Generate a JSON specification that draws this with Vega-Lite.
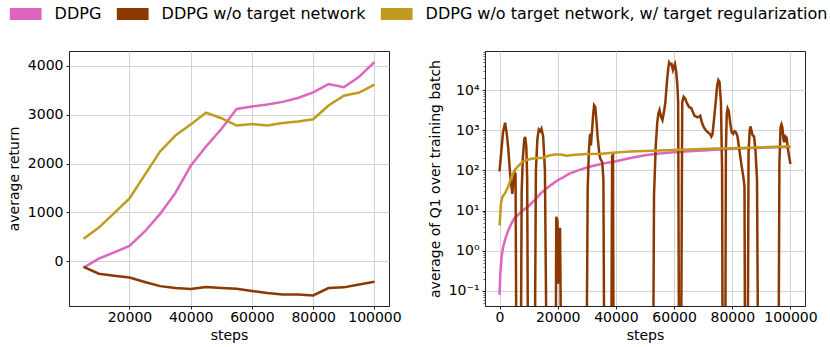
{
  "$schema": "https://vega.github.io/schema/vega-lite/v6.json",
  "padding": {"left": 6, "top": 6, "right": 5, "bottom": 5},
  "bounds": "flush",
  "spacing": 96,
  "config": {
    "font": "DejaVu Sans",
    "view": {"stroke": "#222222", "strokeWidth": 1},
    "axis": {
      "labelFont": "DejaVu Sans", "labelFontSize": 14, "labelColor": "black",
      "titleFont": "DejaVu Sans", "titleFontSize": 14, "titleFontWeight": "normal", "titleColor": "black",
      "domainColor": "#222222", "tickColor": "#222222", "tickSize": 3, "labelPadding": 3,
      "gridColor": "#d3d3d3", "gridWidth": 1, "titlePadding": 6
    },
    "axisX": {"labelPadding": 1, "titlePadding": 4}
  },
  "datasets": {
    "left": [
      {"steps": 5000, "value": -130, "series": "DDPG"},
      {"steps": 10000, "value": 55, "series": "DDPG"},
      {"steps": 15000, "value": 180, "series": "DDPG"},
      {"steps": 20000, "value": 315, "series": "DDPG"},
      {"steps": 25000, "value": 610, "series": "DDPG"},
      {"steps": 30000, "value": 970, "series": "DDPG"},
      {"steps": 35000, "value": 1400, "series": "DDPG"},
      {"steps": 40000, "value": 1955, "series": "DDPG"},
      {"steps": 45000, "value": 2350, "series": "DDPG"},
      {"steps": 50000, "value": 2710, "series": "DDPG"},
      {"steps": 55000, "value": 3120, "series": "DDPG"},
      {"steps": 60000, "value": 3170, "series": "DDPG"},
      {"steps": 65000, "value": 3210, "series": "DDPG"},
      {"steps": 70000, "value": 3265, "series": "DDPG"},
      {"steps": 75000, "value": 3345, "series": "DDPG"},
      {"steps": 80000, "value": 3460, "series": "DDPG"},
      {"steps": 85000, "value": 3630, "series": "DDPG"},
      {"steps": 90000, "value": 3565, "series": "DDPG"},
      {"steps": 95000, "value": 3780, "series": "DDPG"},
      {"steps": 100000, "value": 4080, "series": "DDPG"},
      {"steps": 5000, "value": -115, "series": "DDPG w/o target network"},
      {"steps": 10000, "value": -255, "series": "DDPG w/o target network"},
      {"steps": 15000, "value": -295, "series": "DDPG w/o target network"},
      {"steps": 20000, "value": -335, "series": "DDPG w/o target network"},
      {"steps": 25000, "value": -425, "series": "DDPG w/o target network"},
      {"steps": 30000, "value": -510, "series": "DDPG w/o target network"},
      {"steps": 35000, "value": -550, "series": "DDPG w/o target network"},
      {"steps": 40000, "value": -570, "series": "DDPG w/o target network"},
      {"steps": 45000, "value": -530, "series": "DDPG w/o target network"},
      {"steps": 50000, "value": -550, "series": "DDPG w/o target network"},
      {"steps": 55000, "value": -565, "series": "DDPG w/o target network"},
      {"steps": 60000, "value": -610, "series": "DDPG w/o target network"},
      {"steps": 65000, "value": -650, "series": "DDPG w/o target network"},
      {"steps": 70000, "value": -680, "series": "DDPG w/o target network"},
      {"steps": 75000, "value": -682, "series": "DDPG w/o target network"},
      {"steps": 80000, "value": -700, "series": "DDPG w/o target network"},
      {"steps": 85000, "value": -550, "series": "DDPG w/o target network"},
      {"steps": 90000, "value": -535, "series": "DDPG w/o target network"},
      {"steps": 95000, "value": -475, "series": "DDPG w/o target network"},
      {"steps": 100000, "value": -420, "series": "DDPG w/o target network"},
      {"steps": 5000, "value": 460, "series": "DDPG w/o target network, w/ target regularization"},
      {"steps": 10000, "value": 690, "series": "DDPG w/o target network, w/ target regularization"},
      {"steps": 15000, "value": 985, "series": "DDPG w/o target network, w/ target regularization"},
      {"steps": 20000, "value": 1285, "series": "DDPG w/o target network, w/ target regularization"},
      {"steps": 25000, "value": 1770, "series": "DDPG w/o target network, w/ target regularization"},
      {"steps": 30000, "value": 2250, "series": "DDPG w/o target network, w/ target regularization"},
      {"steps": 35000, "value": 2575, "series": "DDPG w/o target network, w/ target regularization"},
      {"steps": 40000, "value": 2800, "series": "DDPG w/o target network, w/ target regularization"},
      {"steps": 45000, "value": 3045, "series": "DDPG w/o target network, w/ target regularization"},
      {"steps": 50000, "value": 2930, "series": "DDPG w/o target network, w/ target regularization"},
      {"steps": 55000, "value": 2780, "series": "DDPG w/o target network, w/ target regularization"},
      {"steps": 60000, "value": 2810, "series": "DDPG w/o target network, w/ target regularization"},
      {"steps": 65000, "value": 2780, "series": "DDPG w/o target network, w/ target regularization"},
      {"steps": 70000, "value": 2830, "series": "DDPG w/o target network, w/ target regularization"},
      {"steps": 75000, "value": 2865, "series": "DDPG w/o target network, w/ target regularization"},
      {"steps": 80000, "value": 2910, "series": "DDPG w/o target network, w/ target regularization"},
      {"steps": 85000, "value": 3190, "series": "DDPG w/o target network, w/ target regularization"},
      {"steps": 90000, "value": 3390, "series": "DDPG w/o target network, w/ target regularization"},
      {"steps": 95000, "value": 3455, "series": "DDPG w/o target network, w/ target regularization"},
      {"steps": 100000, "value": 3620, "series": "DDPG w/o target network, w/ target regularization"}
    ],
    "right": [
      {"steps": 0, "q": 0.08, "series": "DDPG"},
      {"steps": 300, "q": 0.3, "series": "DDPG"},
      {"steps": 700, "q": 0.7, "series": "DDPG"},
      {"steps": 1200, "q": 1.2, "series": "DDPG"},
      {"steps": 2000, "q": 2.0, "series": "DDPG"},
      {"steps": 3000, "q": 3.2, "series": "DDPG"},
      {"steps": 4000, "q": 4.6, "series": "DDPG"},
      {"steps": 5000, "q": 6.3, "series": "DDPG"},
      {"steps": 6500, "q": 8, "series": "DDPG"},
      {"steps": 8000, "q": 10, "series": "DDPG"},
      {"steps": 10000, "q": 13, "series": "DDPG"},
      {"steps": 12000, "q": 18, "series": "DDPG"},
      {"steps": 14000, "q": 26, "series": "DDPG"},
      {"steps": 16000, "q": 35, "series": "DDPG"},
      {"steps": 18000, "q": 45, "series": "DDPG"},
      {"steps": 20000, "q": 57, "series": "DDPG"},
      {"steps": 22000, "q": 68, "series": "DDPG"},
      {"steps": 24000, "q": 83, "series": "DDPG"},
      {"steps": 27000, "q": 100, "series": "DDPG"},
      {"steps": 30000, "q": 118, "series": "DDPG"},
      {"steps": 33000, "q": 135, "series": "DDPG"},
      {"steps": 36000, "q": 150, "series": "DDPG"},
      {"steps": 40000, "q": 170, "series": "DDPG"},
      {"steps": 45000, "q": 205, "series": "DDPG"},
      {"steps": 50000, "q": 240, "series": "DDPG"},
      {"steps": 55000, "q": 265, "series": "DDPG"},
      {"steps": 60000, "q": 285, "series": "DDPG"},
      {"steps": 65000, "q": 300, "series": "DDPG"},
      {"steps": 70000, "q": 315, "series": "DDPG"},
      {"steps": 77000, "q": 335, "series": "DDPG"},
      {"steps": 85000, "q": 355, "series": "DDPG"},
      {"steps": 92000, "q": 370, "series": "DDPG"},
      {"steps": 100000, "q": 383, "series": "DDPG"},

      {"steps": 0, "q": 95, "series": "DDPG w/o target network"},
      {"steps": 600, "q": 300, "series": "DDPG w/o target network"},
      {"steps": 1200, "q": 900, "series": "DDPG w/o target network"},
      {"steps": 1900, "q": 1550, "series": "DDPG w/o target network"},
      {"steps": 2500, "q": 800, "series": "DDPG w/o target network"},
      {"steps": 3000, "q": 350, "series": "DDPG w/o target network"},
      {"steps": 3600, "q": 90, "series": "DDPG w/o target network"},
      {"steps": 4000, "q": 45, "series": "DDPG w/o target network"},
      {"steps": 4400, "q": 26, "series": "DDPG w/o target network"},
      {"steps": 4800, "q": 60, "series": "DDPG w/o target network"},
      {"steps": 5200, "q": 90, "series": "DDPG w/o target network"},
      {"steps": 5500, "q": 80, "series": "DDPG w/o target network"},
      {"steps": 5800, "q": 0.001, "series": "DDPG w/o target network"},
      {"steps": 7300, "q": 0.001, "series": "DDPG w/o target network"},
      {"steps": 7600, "q": 30, "series": "DDPG w/o target network"},
      {"steps": 8000, "q": 200, "series": "DDPG w/o target network"},
      {"steps": 8500, "q": 600, "series": "DDPG w/o target network"},
      {"steps": 8800, "q": 680, "series": "DDPG w/o target network"},
      {"steps": 9200, "q": 400, "series": "DDPG w/o target network"},
      {"steps": 9500, "q": 60, "series": "DDPG w/o target network"},
      {"steps": 9800, "q": 0.001, "series": "DDPG w/o target network"},
      {"steps": 12100, "q": 0.001, "series": "DDPG w/o target network"},
      {"steps": 12500, "q": 100, "series": "DDPG w/o target network"},
      {"steps": 13000, "q": 600, "series": "DDPG w/o target network"},
      {"steps": 13500, "q": 1050, "series": "DDPG w/o target network"},
      {"steps": 14000, "q": 950, "series": "DDPG w/o target network"},
      {"steps": 14400, "q": 1100, "series": "DDPG w/o target network"},
      {"steps": 15000, "q": 700, "series": "DDPG w/o target network"},
      {"steps": 15600, "q": 100, "series": "DDPG w/o target network"},
      {"steps": 16200, "q": 0.001, "series": "DDPG w/o target network"},
      {"steps": 19300, "q": 0.001, "series": "DDPG w/o target network"},
      {"steps": 19500, "q": 7, "series": "DDPG w/o target network"},
      {"steps": 19900, "q": 5.5, "series": "DDPG w/o target network"},
      {"steps": 20150, "q": 0.15, "series": "DDPG w/o target network"},
      {"steps": 20500, "q": 3.5, "series": "DDPG w/o target network"},
      {"steps": 20800, "q": 3.5, "series": "DDPG w/o target network"},
      {"steps": 21200, "q": 0.001, "series": "DDPG w/o target network"},
      {"steps": 29900, "q": 0.001, "series": "DDPG w/o target network"},
      {"steps": 30300, "q": 35, "series": "DDPG w/o target network"},
      {"steps": 30700, "q": 290, "series": "DDPG w/o target network"},
      {"steps": 31100, "q": 820, "series": "DDPG w/o target network"},
      {"steps": 31400, "q": 420, "series": "DDPG w/o target network"},
      {"steps": 31800, "q": 1000, "series": "DDPG w/o target network"},
      {"steps": 32200, "q": 2500, "series": "DDPG w/o target network"},
      {"steps": 32500, "q": 4200, "series": "DDPG w/o target network"},
      {"steps": 32900, "q": 3800, "series": "DDPG w/o target network"},
      {"steps": 33300, "q": 1800, "series": "DDPG w/o target network"},
      {"steps": 33700, "q": 700, "series": "DDPG w/o target network"},
      {"steps": 34300, "q": 260, "series": "DDPG w/o target network"},
      {"steps": 34600, "q": 200, "series": "DDPG w/o target network"},
      {"steps": 35300, "q": 160, "series": "DDPG w/o target network"},
      {"steps": 35700, "q": 60, "series": "DDPG w/o target network"},
      {"steps": 36000, "q": 0.001, "series": "DDPG w/o target network"},
      {"steps": 38400, "q": 0.001, "series": "DDPG w/o target network"},
      {"steps": 38700, "q": 230, "series": "DDPG w/o target network"},
      {"steps": 39000, "q": 240, "series": "DDPG w/o target network"},
      {"steps": 39200, "q": 0.001, "series": "DDPG w/o target network"},
      {"steps": 52800, "q": 0.001, "series": "DDPG w/o target network"},
      {"steps": 53100, "q": 24, "series": "DDPG w/o target network"},
      {"steps": 53700, "q": 420, "series": "DDPG w/o target network"},
      {"steps": 54200, "q": 1500, "series": "DDPG w/o target network"},
      {"steps": 54600, "q": 2600, "series": "DDPG w/o target network"},
      {"steps": 55000, "q": 3200, "series": "DDPG w/o target network"},
      {"steps": 55500, "q": 2200, "series": "DDPG w/o target network"},
      {"steps": 56000, "q": 1800, "series": "DDPG w/o target network"},
      {"steps": 56500, "q": 2800, "series": "DDPG w/o target network"},
      {"steps": 57000, "q": 5000, "series": "DDPG w/o target network"},
      {"steps": 57600, "q": 18000, "series": "DDPG w/o target network"},
      {"steps": 58000, "q": 35000, "series": "DDPG w/o target network"},
      {"steps": 58300, "q": 49000, "series": "DDPG w/o target network"},
      {"steps": 58700, "q": 44000, "series": "DDPG w/o target network"},
      {"steps": 59100, "q": 45000, "series": "DDPG w/o target network"},
      {"steps": 59600, "q": 32000, "series": "DDPG w/o target network"},
      {"steps": 60000, "q": 40000, "series": "DDPG w/o target network"},
      {"steps": 60300, "q": 45000, "series": "DDPG w/o target network"},
      {"steps": 60700, "q": 30000, "series": "DDPG w/o target network"},
      {"steps": 61100, "q": 14000, "series": "DDPG w/o target network"},
      {"steps": 61400, "q": 5000, "series": "DDPG w/o target network"},
      {"steps": 61700, "q": 0.001, "series": "DDPG w/o target network"},
      {"steps": 62400, "q": 0.001, "series": "DDPG w/o target network"},
      {"steps": 62800, "q": 5000, "series": "DDPG w/o target network"},
      {"steps": 63300, "q": 6800, "series": "DDPG w/o target network"},
      {"steps": 63800, "q": 6200, "series": "DDPG w/o target network"},
      {"steps": 64300, "q": 5000, "series": "DDPG w/o target network"},
      {"steps": 64800, "q": 4200, "series": "DDPG w/o target network"},
      {"steps": 65300, "q": 3700, "series": "DDPG w/o target network"},
      {"steps": 65900, "q": 3600, "series": "DDPG w/o target network"},
      {"steps": 66500, "q": 2800, "series": "DDPG w/o target network"},
      {"steps": 67000, "q": 2300, "series": "DDPG w/o target network"},
      {"steps": 67600, "q": 2200, "series": "DDPG w/o target network"},
      {"steps": 68100, "q": 2100, "series": "DDPG w/o target network"},
      {"steps": 68600, "q": 2200, "series": "DDPG w/o target network"},
      {"steps": 69000, "q": 2300, "series": "DDPG w/o target network"},
      {"steps": 69500, "q": 1600, "series": "DDPG w/o target network"},
      {"steps": 70200, "q": 1200, "series": "DDPG w/o target network"},
      {"steps": 70900, "q": 1000, "series": "DDPG w/o target network"},
      {"steps": 71500, "q": 900, "series": "DDPG w/o target network"},
      {"steps": 72200, "q": 830, "series": "DDPG w/o target network"},
      {"steps": 72800, "q": 700, "series": "DDPG w/o target network"},
      {"steps": 73200, "q": 800, "series": "DDPG w/o target network"},
      {"steps": 73700, "q": 1800, "series": "DDPG w/o target network"},
      {"steps": 74300, "q": 5000, "series": "DDPG w/o target network"},
      {"steps": 74800, "q": 13000, "series": "DDPG w/o target network"},
      {"steps": 75200, "q": 17800, "series": "DDPG w/o target network"},
      {"steps": 75600, "q": 16000, "series": "DDPG w/o target network"},
      {"steps": 76100, "q": 5000, "series": "DDPG w/o target network"},
      {"steps": 76500, "q": 100, "series": "DDPG w/o target network"},
      {"steps": 76700, "q": 0.001, "series": "DDPG w/o target network"},
      {"steps": 77600, "q": 0.001, "series": "DDPG w/o target network"},
      {"steps": 77800, "q": 300, "series": "DDPG w/o target network"},
      {"steps": 78100, "q": 2500, "series": "DDPG w/o target network"},
      {"steps": 78400, "q": 3500, "series": "DDPG w/o target network"},
      {"steps": 78800, "q": 3000, "series": "DDPG w/o target network"},
      {"steps": 79300, "q": 1500, "series": "DDPG w/o target network"},
      {"steps": 79800, "q": 900, "series": "DDPG w/o target network"},
      {"steps": 80300, "q": 820, "series": "DDPG w/o target network"},
      {"steps": 80800, "q": 950, "series": "DDPG w/o target network"},
      {"steps": 81300, "q": 880, "series": "DDPG w/o target network"},
      {"steps": 81800, "q": 700, "series": "DDPG w/o target network"},
      {"steps": 82500, "q": 300, "series": "DDPG w/o target network"},
      {"steps": 83200, "q": 130, "series": "DDPG w/o target network"},
      {"steps": 83800, "q": 70, "series": "DDPG w/o target network"},
      {"steps": 84200, "q": 40, "series": "DDPG w/o target network"},
      {"steps": 84400, "q": 0.001, "series": "DDPG w/o target network"},
      {"steps": 85300, "q": 0.001, "series": "DDPG w/o target network"},
      {"steps": 85600, "q": 300, "series": "DDPG w/o target network"},
      {"steps": 86000, "q": 1000, "series": "DDPG w/o target network"},
      {"steps": 86300, "q": 1250, "series": "DDPG w/o target network"},
      {"steps": 86700, "q": 900, "series": "DDPG w/o target network"},
      {"steps": 87000, "q": 750, "series": "DDPG w/o target network"},
      {"steps": 87500, "q": 700, "series": "DDPG w/o target network"},
      {"steps": 88000, "q": 300, "series": "DDPG w/o target network"},
      {"steps": 88500, "q": 60, "series": "DDPG w/o target network"},
      {"steps": 88900, "q": 0.001, "series": "DDPG w/o target network"},
      {"steps": 95900, "q": 0.001, "series": "DDPG w/o target network"},
      {"steps": 96200, "q": 150, "series": "DDPG w/o target network"},
      {"steps": 96600, "q": 1200, "series": "DDPG w/o target network"},
      {"steps": 96900, "q": 1400, "series": "DDPG w/o target network"},
      {"steps": 97200, "q": 1200, "series": "DDPG w/o target network"},
      {"steps": 97600, "q": 600, "series": "DDPG w/o target network"},
      {"steps": 97900, "q": 500, "series": "DDPG w/o target network"},
      {"steps": 98300, "q": 700, "series": "DDPG w/o target network"},
      {"steps": 98700, "q": 650, "series": "DDPG w/o target network"},
      {"steps": 99100, "q": 350, "series": "DDPG w/o target network"},
      {"steps": 99500, "q": 230, "series": "DDPG w/o target network"},
      {"steps": 100000, "q": 145, "series": "DDPG w/o target network"},

      {"steps": 0, "q": 4.3, "series": "DDPG w/o target network, w/ target regularization"},
      {"steps": 500, "q": 15, "series": "DDPG w/o target network, w/ target regularization"},
      {"steps": 1000, "q": 22, "series": "DDPG w/o target network, w/ target regularization"},
      {"steps": 2000, "q": 28, "series": "DDPG w/o target network, w/ target regularization"},
      {"steps": 3000, "q": 40, "series": "DDPG w/o target network, w/ target regularization"},
      {"steps": 4000, "q": 65, "series": "DDPG w/o target network, w/ target regularization"},
      {"steps": 5000, "q": 95, "series": "DDPG w/o target network, w/ target regularization"},
      {"steps": 6000, "q": 120, "series": "DDPG w/o target network, w/ target regularization"},
      {"steps": 7500, "q": 155, "series": "DDPG w/o target network, w/ target regularization"},
      {"steps": 9000, "q": 180, "series": "DDPG w/o target network, w/ target regularization"},
      {"steps": 11000, "q": 195, "series": "DDPG w/o target network, w/ target regularization"},
      {"steps": 13000, "q": 205, "series": "DDPG w/o target network, w/ target regularization"},
      {"steps": 15000, "q": 205, "series": "DDPG w/o target network, w/ target regularization"},
      {"steps": 17000, "q": 235, "series": "DDPG w/o target network, w/ target regularization"},
      {"steps": 19000, "q": 250, "series": "DDPG w/o target network, w/ target regularization"},
      {"steps": 21000, "q": 250, "series": "DDPG w/o target network, w/ target regularization"},
      {"steps": 23000, "q": 232, "series": "DDPG w/o target network, w/ target regularization"},
      {"steps": 26000, "q": 245, "series": "DDPG w/o target network, w/ target regularization"},
      {"steps": 30000, "q": 255, "series": "DDPG w/o target network, w/ target regularization"},
      {"steps": 35000, "q": 262, "series": "DDPG w/o target network, w/ target regularization"},
      {"steps": 40000, "q": 280, "series": "DDPG w/o target network, w/ target regularization"},
      {"steps": 45000, "q": 295, "series": "DDPG w/o target network, w/ target regularization"},
      {"steps": 50000, "q": 305, "series": "DDPG w/o target network, w/ target regularization"},
      {"steps": 55000, "q": 315, "series": "DDPG w/o target network, w/ target regularization"},
      {"steps": 60000, "q": 325, "series": "DDPG w/o target network, w/ target regularization"},
      {"steps": 65000, "q": 333, "series": "DDPG w/o target network, w/ target regularization"},
      {"steps": 70000, "q": 340, "series": "DDPG w/o target network, w/ target regularization"},
      {"steps": 75000, "q": 350, "series": "DDPG w/o target network, w/ target regularization"},
      {"steps": 80000, "q": 358, "series": "DDPG w/o target network, w/ target regularization"},
      {"steps": 85000, "q": 368, "series": "DDPG w/o target network, w/ target regularization"},
      {"steps": 90000, "q": 378, "series": "DDPG w/o target network, w/ target regularization"},
      {"steps": 95000, "q": 388, "series": "DDPG w/o target network, w/ target regularization"},
      {"steps": 100000, "q": 398, "series": "DDPG w/o target network, w/ target regularization"}
    ]
  },
  "hconcat": [
    {
      "width": 320,
      "height": 255,
      "data": {"name": "left"},
      "mark": {"type": "line", "strokeWidth": 2.5, "clip": true},
      "encoding": {
        "x": {"field": "steps", "type": "quantitative",
          "scale": {"domain": [250, 104750], "nice": false, "zero": false},
          "axis": {"values": [20000, 40000, 60000, 80000, 100000], "format": "d", "title": "steps"}},
        "y": {"field": "value", "type": "quantitative",
          "scale": {"domain": [-917, 4307], "nice": false, "zero": false},
          "axis": {"values": [0, 1000, 2000, 3000, 4000], "format": "d", "title": "average return"}},
        "color": {"field": "series", "type": "nominal",
          "scale": {"domain": ["DDPG", "DDPG w/o target network", "DDPG w/o target network, w/ target regularization"],
                    "range": ["#df66be", "#8c3800", "#c09b1e"]},
          "legend": {"orient": "none", "legendX": -59.4, "legendY": -45, "direction": "horizontal",
            "gridAlign": "none", "clipHeight": 16,
            "title": null, "symbolType": "M-1,-0.375H1V0.375H-1Z", "symbolSize": 1024, "symbolStrokeWidth": 0,
            "labelFont": "DejaVu Sans", "labelFontSize": 16, "labelColor": "black", "labelOffset": 13,
            "columnPadding": 15, "labelLimit": 1000, "padding": 0,
            "encode": {"symbols": {"update": {"fill": {"scale": "color", "field": "value"}, "fillOpacity": {"value": 1}, "strokeWidth": {"value": 0}}}}}}
      }
    },
    {
      "width": 320,
      "height": 255,
      "data": {"name": "right"},
      "resolve": {"axis": {"y": "independent"}},
      "layer": [
        {
          "mark": {"type": "line", "strokeWidth": 2.5, "clip": true},
          "encoding": {
            "x": {"field": "steps", "type": "quantitative",
              "scale": {"domain": [-5000, 105000], "nice": false, "zero": false},
              "axis": {"values": [0, 20000, 40000, 60000, 80000, 100000], "format": "d", "title": "steps"}},
            "y": {"field": "q", "type": "quantitative",
              "scale": {"type": "log", "domain": [0.042, 94400], "nice": false},
              "axis": {"values": [0.1, 1, 10, 100, 1000, 10000], "title": "average of Q1 over training batch",
                "labelExpr": "datum.value < 0.5 ? '10⁻¹' : datum.value < 5 ? '10⁰' : datum.value < 50 ? '10¹' : datum.value < 500 ? '10²' : datum.value < 5000 ? '10³' : '10⁴'"}},
            "color": {"field": "series", "type": "nominal"}
          }
        },
        {
          "mark": {"type": "line", "opacity": 0, "clip": true},
          "encoding": {
            "x": {"field": "steps", "type": "quantitative"},
            "y": {"field": "q", "type": "quantitative",
              "axis": {"orient": "left", "title": null, "labels": false, "grid": false, "domain": false, "tickSize": 2, "tickWidth": 0.7,
                "values": [0.05, 0.06, 0.07, 0.08, 0.09, 0.2, 0.3, 0.4, 0.5, 0.6, 0.7, 0.8, 0.9, 2, 3, 4, 5, 6, 7, 8, 9, 20, 30, 40, 50, 60, 70, 80, 90, 200, 300, 400, 500, 600, 700, 800, 900, 2000, 3000, 4000, 5000, 6000, 7000, 8000, 9000, 20000, 30000, 40000, 50000, 60000, 70000, 80000, 90000]}},
            "detail": {"field": "series", "type": "nominal"}
          }
        }
      ]
    }
  ]
}
